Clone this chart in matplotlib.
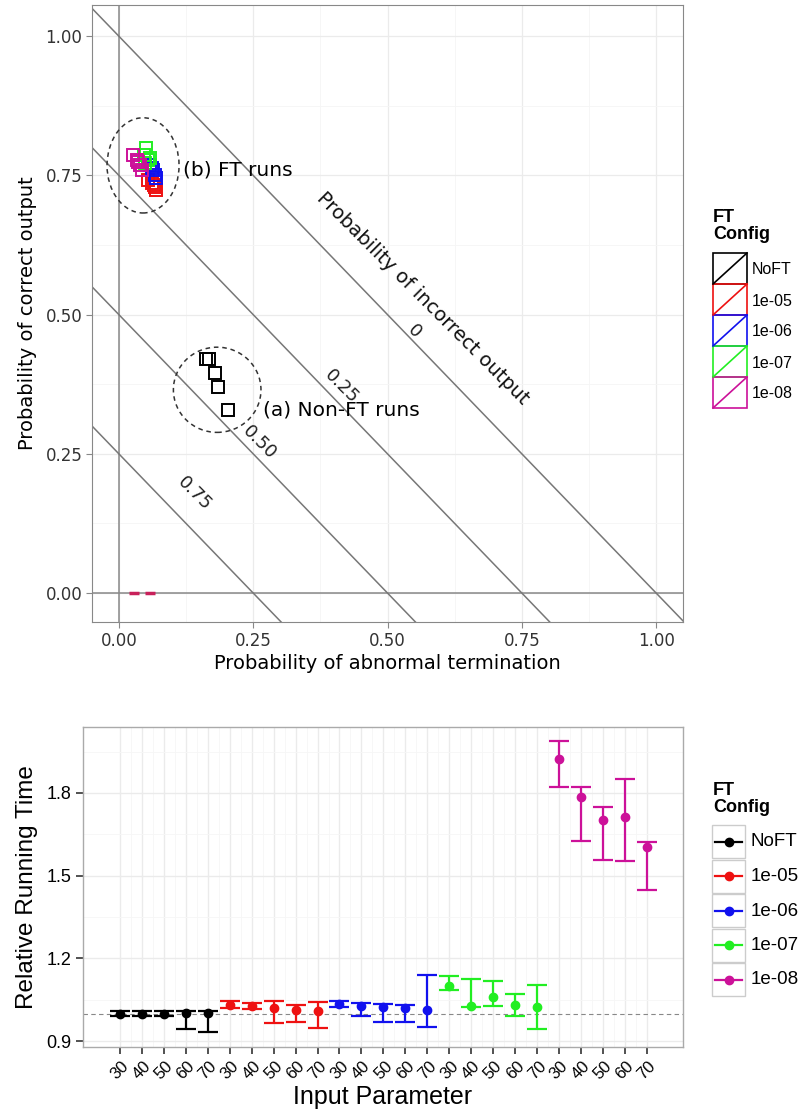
import numpy as np
import matplotlib.pyplot as plt
from matplotlib.patches import Ellipse, Rectangle
from matplotlib.lines import Line2D

W, H = 802, 1117

configs = ['NoFT', '1e-05', '1e-06', '1e-07', '1e-08']
colors = ['black', '#ee1111', '#1111ee', '#22ee22', '#cc1199']
inputs = [30, 40, 50, 60, 70]

# top panel: probability of abnormal termination (x) vs correct output (y)
p_abort = {
    'NoFT':  [0.163, 0.168, 0.179, 0.184, 0.203],
    '1e-05': [0.054, 0.061, 0.067, 0.069, 0.065],
    '1e-06': [0.058, 0.063, 0.067, 0.069, 0.061],
    '1e-07': [0.051, 0.047, 0.054, 0.049, 0.058],
    '1e-08': [0.027, 0.033, 0.040, 0.043, 0.036],
}
p_correct = {
    'NoFT':  [0.420, 0.420, 0.395, 0.370, 0.329],
    '1e-05': [0.741, 0.736, 0.729, 0.723, 0.733],
    '1e-06': [0.768, 0.759, 0.750, 0.745, 0.763],
    '1e-07': [0.799, 0.786, 0.777, 0.772, 0.781],
    '1e-08': [0.786, 0.777, 0.768, 0.759, 0.774],
}
zero_marks_x = [0.029, 0.058]
incorrect_levels = [0, 0.25, 0.50, 0.75]
level_labels = ['0', '0.25', '0.50', '0.75']

# bottom panel: relative running time (mean, low, high)
rt_mean = {
    'NoFT':  [1.000, 1.000, 0.998, 1.004, 1.004],
    '1e-05': [1.032, 1.028, 1.020, 1.014, 1.010],
    '1e-06': [1.035, 1.026, 1.024, 1.020, 1.014],
    '1e-07': [1.100, 1.028, 1.062, 1.032, 1.024],
    '1e-08': [1.923, 1.787, 1.702, 1.712, 1.605],
}
rt_low = {
    'NoFT':  [0.992, 0.992, 0.990, 0.945, 0.933],
    '1e-05': [1.020, 1.017, 0.966, 0.969, 0.947],
    '1e-06': [1.024, 0.993, 0.969, 0.969, 0.950],
    '1e-07': [1.086, 1.025, 1.029, 0.992, 0.944],
    '1e-08': [1.821, 1.624, 1.557, 1.554, 1.449],
}
rt_high = {
    'NoFT':  [1.011, 1.011, 1.011, 1.011, 1.011],
    '1e-05': [1.047, 1.040, 1.046, 1.032, 1.042],
    '1e-06': [1.044, 1.040, 1.035, 1.031, 1.140],
    '1e-07': [1.135, 1.125, 1.120, 1.072, 1.105],
    '1e-08': [1.988, 1.821, 1.748, 1.850, 1.621],
}


def px_rect(x0, y0, x1, y1):
    return [x0 / W, 1 - y1 / H, (x1 - x0) / W, (y1 - y0) / H]


fig = plt.figure(figsize=(W / 100, H / 100), dpi=100)
top_font = 'DejaVu Sans'
bot_font = 'Liberation Sans'

# ---------------- top panel ----------------
ax = fig.add_axes(px_rect(92, 5, 683, 622))
ax.set_xlim(-0.05, 1.05)
ax.set_ylim(-0.052, 1.056)
ticks = [0, 0.25, 0.5, 0.75, 1.0]
ax.set_xticks(ticks)
ax.set_yticks(ticks)
ax.set_xticks(np.arange(0.125, 1.0, 0.25), minor=True)
ax.set_yticks(np.arange(0.125, 1.0, 0.25), minor=True)
ax.set_xticklabels(['%.2f' % t for t in ticks], fontname=top_font, fontsize=12, color='#333333')
ax.set_yticklabels(['%.2f' % t for t in ticks], fontname=top_font, fontsize=12, color='#333333')
ax.grid(True, which='major', color='#ebebeb', lw=0.9)
ax.grid(True, which='minor', color='#f5f5f5', lw=0.6)
ax.set_axisbelow(True)
ax.tick_params(which='major', length=4, color='#888888', width=0.8, pad=3)
ax.tick_params(which='minor', length=0)
for s in ax.spines.values():
    s.set_color('#888888')
    s.set_linewidth(0.8)

ax.axvline(0, color='#888888', lw=1.1, zorder=1)
ax.axhline(0, color='#888888', lw=1.1, zorder=1)
xs = np.array([-0.1, 1.2])
for lev in incorrect_levels:
    ax.plot(xs, (1 - lev) - xs, color='#777777', lw=1.1, zorder=1)

label_pos = [(0.55, 0.47), (0.415, 0.37), (0.262, 0.27), (0.14, 0.178)]
for (lx, ly), lab in zip(label_pos, level_labels):
    ax.text(lx, ly, lab, rotation=-45, ha='center', va='center',
            fontname=top_font, fontsize=13, color='#222222', rotation_mode='anchor')
ax.text(0.565, 0.53, 'Probability of incorrect output', rotation=-45, ha='center',
        va='center', fontname=top_font, fontsize=14, color='#111111', rotation_mode='anchor')

for c, col in zip(configs, colors):
    ax.plot(p_abort[c], p_correct[c], ls='none', marker='s', ms=8, mfc='none',
            mec=col, mew=1.4, zorder=3)
ax.plot(zero_marks_x, [0, 0], ls='none', marker='_', ms=7, mew=2.5, color='#c8205a', zorder=3)

ax.add_patch(Ellipse((0.045, 0.768), 0.134, 0.171, fill=False, ls=(0, (3, 2.5)),
                     ec='#333333', lw=1.1))
ax.add_patch(Ellipse((0.183, 0.365), 0.163, 0.153, fill=False, ls=(0, (3, 2.5)),
                     ec='#333333', lw=1.1))
ax.text(0.119, 0.759, '(b) FT runs', fontname=top_font, fontsize=14.5, va='center', ha='left')
ax.text(0.268, 0.329, '(a) Non-FT runs', fontname=top_font, fontsize=14.5, va='center', ha='left')

ax.set_xlabel('Probability of abnormal termination', fontname=top_font, fontsize=14, labelpad=3)
ax.set_ylabel('Probability of correct output', fontname=top_font, fontsize=14, labelpad=6)

# ---------------- bottom panel ----------------
bx = fig.add_axes(px_rect(83, 727, 683, 1047))
n = len(configs) * len(inputs)
pos = np.arange(n)
bx.set_xlim(-1.686, 25.65)
bx.set_ylim(0.879, 2.039)
bx.set_xticks(pos)
bx.set_xticklabels([str(v) for v in inputs] * len(configs), rotation=45,
                   fontname=bot_font, fontsize=12)
bx.set_xticks(pos[:-1] + 0.5, minor=True)
bx.set_yticks([0.9, 1.2, 1.5, 1.8])
bx.set_yticklabels(['0.9', '1.2', '1.5', '1.8'], fontname=bot_font, fontsize=13)
bx.set_yticks([1.05, 1.35, 1.65, 1.95], minor=True)
bx.grid(True, which='major', color='#ebebeb', lw=1.0)
bx.grid(True, which='minor', color='#f6f6f6', lw=0.6)
bx.set_axisbelow(True)
bx.tick_params(which='major', length=5, width=1.2, color='#333333')
bx.tick_params(which='minor', length=0)
for s in bx.spines.values():
    s.set_color('#aaaaaa')
    s.set_linewidth(1.0)
bx.axhline(1.0, color='#888888', lw=0.8, ls=(0, (4, 3)), zorder=1)

for k, (c, col) in enumerate(zip(configs, colors)):
    xx = pos[k * 5:(k + 1) * 5]
    m = np.array(rt_mean[c])
    lo = np.array(rt_low[c])
    hi = np.array(rt_high[c])
    bx.errorbar(xx, m, yerr=[m - lo, hi - m], fmt='o', color=col, ms=6,
                elinewidth=1.6, capsize=7, capthick=1.6, zorder=3)

bx.set_xlabel('Input Parameter', fontname=bot_font, fontsize=18, labelpad=2)
bx.set_ylabel('Relative Running Time', fontname=bot_font, fontsize=17.5, labelpad=6)

# ---------------- legends (drawn in pixel space) ----------------
lg = fig.add_axes([0, 0, 1, 1])
lg.set_xlim(0, W)
lg.set_ylim(H, 0)
lg.axis('off')

lg.text(713, 226, 'FT\nConfig', fontname=bot_font, fontsize=13, fontweight='bold',
        va='center', ha='left', linespacing=1.0)
for i, (c, col) in enumerate(zip(configs, colors)):
    y0 = 253 + 31 * i
    lg.add_patch(Rectangle((713, y0), 34, 31, fill=False, ec=col, lw=1.2))
    lg.add_line(Line2D([713, 747], [y0 + 31, y0], color=col, lw=1.2))
    lg.text(752, y0 + 17, c, fontname=bot_font, fontsize=11.5, va='center', ha='left')

lg.text(713, 799, 'FT\nConfig', fontname=bot_font, fontsize=13, fontweight='bold',
        va='center', ha='left', linespacing=1.0)
for i, (c, col) in enumerate(zip(configs, colors)):
    y0 = 825 + 34.5 * i
    lg.add_patch(Rectangle((712, y0), 33, 33, fill=False, ec='#cccccc', lw=1.0))
    lg.add_line(Line2D([715, 742], [y0 + 16.5, y0 + 16.5], color=col, lw=1.6))
    lg.plot([728.5], [y0 + 16.5], marker='o', ms=6, color=col)
    lg.text(751, y0 + 17, c, fontname=bot_font, fontsize=13.5, va='center', ha='left')

fig.savefig('out.png', dpi=100)
